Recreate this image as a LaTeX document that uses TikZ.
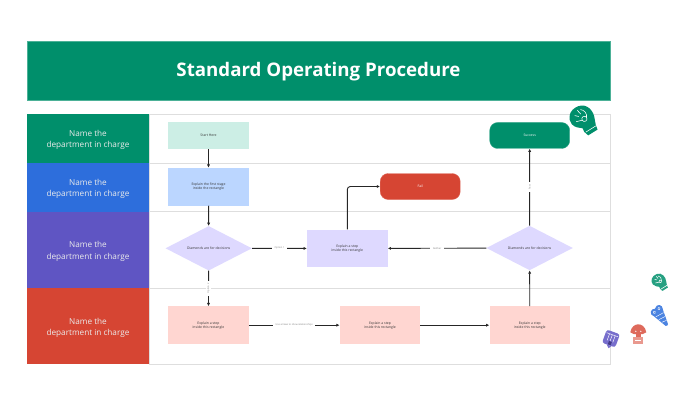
\documentclass[tikz,border=0pt]{standalone}
\usepackage{fontspec}
\setmainfont{Open Sans}
\usetikzlibrary{arrows.meta,positioning,shapes.geometric}
\definecolor{SopGreen}{RGB}{0,143,107}
\definecolor{SopBlue}{RGB}{45,110,220}
\definecolor{SopPurple}{RGB}{95,85,195}
\definecolor{SopRed}{RGB}{214,69,51}
\definecolor{StartMint}{RGB}{204,238,229}
\definecolor{StepBlue}{RGB}{187,214,255}
\definecolor{StepLilac}{RGB}{222,217,255}
\definecolor{StepPink}{RGB}{255,214,209}
\definecolor{LaneGray}{RGB}{222,222,222}
\definecolor{TextDark}{RGB}{50,50,50}
\newcommand{\lanetext}{\raisebox{-1.3pt}[7pt][2pt]{Name the}\\\raisebox{-1.3pt}[7pt][2pt]{department in charge}}
\tikzset{
    headbox/.style={draw=SopGreen!70!white, fill=SopGreen, minimum width=583, minimum height=59, text=white, font=\fontsize{18.7}{24}\selectfont\bfseries, execute at begin node={\rule{0pt}{16pt}}},
    lanehead/.style={minimum width=122, align=center, text=white!92!black, font=\fontsize{8.2}{11.3}\selectfont},
    laneline/.style={draw=LaneGray, line width=0.8},
    stepbox/.style={minimum width=80.5, minimum height=37.7, align=center, text=TextDark, font=\fontsize{3.4}{3.9}\selectfont},
    decision/.style={diamond, aspect=1.93, inner sep=0, minimum width=86.5, minimum height=44.5, fill=StepLilac, text=TextDark, font=\fontsize{3.4}{3.9}\selectfont},
    endbox/.style={rounded corners=8, minimum width=80, minimum height=26, text=white, font=\fontsize{3.4}{3.9}\selectfont},
    solidarr/.style={-{Latex[length=3.2,width=3.2]}, line width=0.9, black!85},
    edgelabel/.style={fill=white, inner xsep=2.5, inner ysep=1.2, text=gray, font=\fontsize{2.4}{3}\selectfont},
    sticker/.style={line join=round},
    handmark/.pic={
        \fill[pic actions] (-6,6) -- (-6.5,10) -- (-5,15) -- (6,15) -- (7,10) -- (9,5) .. controls (13,-3) and (11,-13) .. (2,-15) .. controls (-8,-17) and (-14,-10) .. (-13,-3) .. controls (-12,2) and (-8,4) .. (-6,6) -- cycle;
        \draw[white, line width=0.55] (-5.5,11) -- (6.5,11);
        \draw[white, line width=0.55] (0.5,-1) circle (2.6);
        \draw[white, line width=0.55] (3,-1) .. controls (6,-4) and (5,-9) .. (2,-11);
        \draw[white, line width=0.55] (-2,-1) -- (-8,-3);
        \draw[white, line width=0.55] (-6,-9) -- (-3,-6) (-1,-12) -- (0,-7);
    },
}
\begin{document}
\begin{tikzpicture}[x=1pt,y=-1pt]
\useasboundingbox (0,0) rectangle (680,409);
\node[headbox] (title) at (318.5,70.5) {Standard Operating Procedure};

% swimlane frame
\coordinate (frameTL) at (149,114);
\coordinate (frameBR) at (610.5,364);
\draw[laneline] (frameTL) rectangle (frameBR);
\draw[laneline] (149,163) -- (610.5,163);
\draw[laneline] (149,211.5) -- (610.5,211.5);
\draw[laneline] (149,288) -- (610.5,288);

% department headers
\node[lanehead, fill=SopGreen, minimum height=49] (lane1) at (88,138.5) {\lanetext};
\node[lanehead, fill=SopBlue, minimum height=48.5] (lane2) at (88,187.25) {\lanetext};
\node[lanehead, fill=SopPurple, minimum height=76.5] (lane3) at (88,249.75) {\lanetext};
\node[lanehead, fill=SopRed, minimum height=76] (lane4) at (88,326) {\lanetext};

% steps
\node[stepbox, fill=StartMint, minimum height=26.7] (start) at (208.5,135.7) {Start Here};
\node[stepbox, fill=StepBlue] (first) at (208.5,186.7) {Explain the first stage\\inside the rectangle};
\node[decision] (choice) at (208.7,248.3) {Diamonds are for decisions};
\node[stepbox, fill=StepLilac] (middle) at (347.3,248.5) {Explain a step\\inside this rectangle};
\node[decision] (review) at (529.6,248) {Diamonds are for decisions};
\node[stepbox, fill=StepPink] (stepA) at (208.4,325.2) {Explain a step\\inside this rectangle};
\node[stepbox, fill=StepPink] (stepB) at (380,325.2) {Explain a step\\inside this rectangle};
\node[stepbox, fill=StepPink] (stepC) at (529.8,325.2) {Explain a step\\inside this rectangle};
\node[endbox, fill=SopRed, draw=SopRed!80!white] (fail) at (420.2,186.5) {Fail};
\node[endbox, fill=SopGreen, draw=SopGreen!80!white] (success) at (529.7,135.5) {Success};

\draw[solidarr] (start) -- (first);
\draw[solidarr] (first) -- (choice);
\draw[solidarr] (choice) -- node[edgelabel]{Option 1} (middle);
\draw[solidarr] (choice) -- node[edgelabel, rotate=90]{Option 2} (stepA);
\draw[solidarr, rounded corners=3] (middle) |- (fail);
\draw[solidarr] (review) -- node[edgelabel]{Neither} (middle);
\draw[solidarr] (review) -- node[edgelabel, rotate=90]{Pass} (success);
\draw[solidarr] (stepA) -- node[edgelabel]{Use arrows to show relationships} (stepB);
\draw[solidarr] (stepB) -- (stepC);
\draw[solidarr] (stepC) -- (review);

% stickers
\pic[sticker, fill=SopGreen, rotate=32] (handA) at (584.5,120) {handmark};
\pic[sticker, fill=SopGreen!85!white, rotate=32, scale=0.58] (handB) at (660.3,282) {handmark};
\begin{scope}[sticker, shift={(660.5,316)}, rotate=35]
\fill[SopBlue!85!white] (-6.5,-7) .. controls (-2,-10) and (3,-10) .. (6.5,-7) -- (1.5,11) .. controls (0.8,12) and (-0.8,12) .. (-1.5,11) -- cycle;
\fill[SopBlue!85!white] (-3,-6.5) circle (3.6) (3,-7) circle (3.6);
\draw[white, line width=0.45] (-4.5,-2) -- (4.5,-1) (-3.5,2) -- (3.5,3) (-2.2,6) -- (2.4,7);
\draw[white, line width=0.45] (-3,-6.5) circle (1.2) (3,-7) circle (1.2);
\end{scope}
\begin{scope}[sticker, shift={(638.3,334.3)}]
\fill[SopRed!80!white] (-8,-2) .. controls (-7,-8) and (-3,-10) .. (0,-10) .. controls (3,-10) and (7,-8) .. (8,-2) .. controls (5,1) and (-5,1) .. (-8,-2);
\fill[SopRed!80!white] (-2.5,0) -- (2.5,0) -- (2.5,3) -- (-2.5,3) -- cycle;
\fill[SopRed!55!white] (-5,3) rectangle (5,9.5);
\draw[white, line width=0.4] (-3,6) -- (3,6);
\fill[white] (-2.5,-3) circle (0.7) (2.5,-3) circle (0.7);
\end{scope}
\begin{scope}[sticker, shift={(611,338.5)}, rotate=-20]
\fill[SopPurple!85!white, rounded corners=2.5] (-7,-7) rectangle (7,7);
\fill[SopPurple!85!white] (-2,7) -- (3,7) -- (1,10) -- cycle;
\draw[white, line width=0.45] (-6,-4) -- (6,-4) (-3,-4) -- (-3,3) (0,-4) -- (0,3) (3,-4) -- (3,3);
\fill[SopPurple!70!black] (-1,3) rectangle (2,6.5);
\end{scope}
\end{tikzpicture}
\end{document}
